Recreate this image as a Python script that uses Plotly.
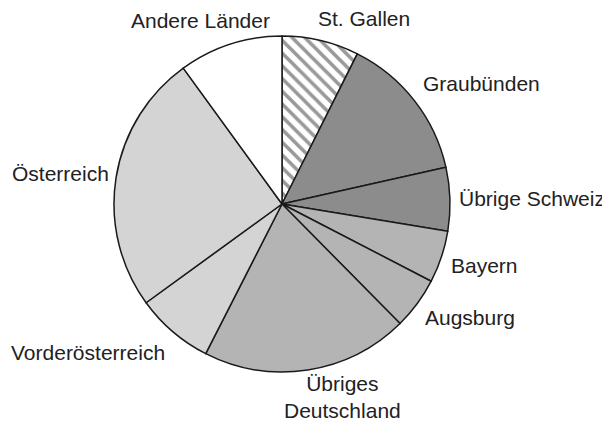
import plotly.graph_objects as go

# Data (percent shares, clockwise from 12 o'clock)
regions = ["St. Gallen", "Graubünden", "Übrige Schweiz", "Bayern", "Augsburg",
           "Übriges Deutschland", "Vorderösterreich", "Österreich", "Andere Länder"]
shares = [7.4, 14.1, 6.1, 5.0, 5.0, 19.9, 7.5, 25.0, 10.0]

# Styling (kept separate from the data)
fill_colors = ["#ffffff", "#8c8c8c", "#8c8c8c", "#b4b4b4", "#b4b4b4",
               "#b4b4b4", "#d4d4d4", "#d4d4d4", "#ffffff"]
pattern_shapes = ["\\", "", "", "", "", "", "", "", ""]
label_text = ["St. Gallen", "Graubünden", "Übrige Schweiz", "Bayern", "Augsburg",
              "Übriges<br>Deutschland", "Vorderösterreich", "Österreich", "Andere Länder"]
# label centre positions in window pixels (x, y from top)
label_pos = [(364, 18), (481, 83), (532, 198), (484, 265), (470, 317),
             (342, 397), (88, 352), (60, 173), (200, 20)]

W, H = 610, 423
OFF = 8  # page body margin offsets the figure
cx, cy, r = 282 - OFF, 204 - OFF, 168

fig = go.Figure(go.Pie(
    labels=regions,
    values=shares,
    sort=False,
    direction="clockwise",
    rotation=0,
    textinfo="none",
    hoverinfo="label+percent",
    marker=dict(
        colors=fill_colors,
        line=dict(color="#1a1a1a", width=1.5),
        pattern=dict(shape=pattern_shapes, fgcolor="#999999", bgcolor="#ffffff",
                     size=9, solidity=0.4),
    ),
    domain=dict(x=[(cx - r) / W, (cx + r) / W], y=[1 - (cy + r) / H, 1 - (cy - r) / H]),
    showlegend=False,
))

for txt, (px, py) in zip(label_text, label_pos):
    fig.add_annotation(x=(px - OFF) / W, y=1 - (py - OFF) / H, xref="paper", yref="paper",
                       text=txt, showarrow=False, xanchor="center", yanchor="middle",
                       font=dict(size=21, color="#222222", family="Liberation Sans, Arial, sans-serif"))

fig.update_layout(
    width=W, height=H,
    margin=dict(l=0, r=0, t=0, b=0),
    paper_bgcolor="white", plot_bgcolor="white",
)

fig.write_html("out.html")
